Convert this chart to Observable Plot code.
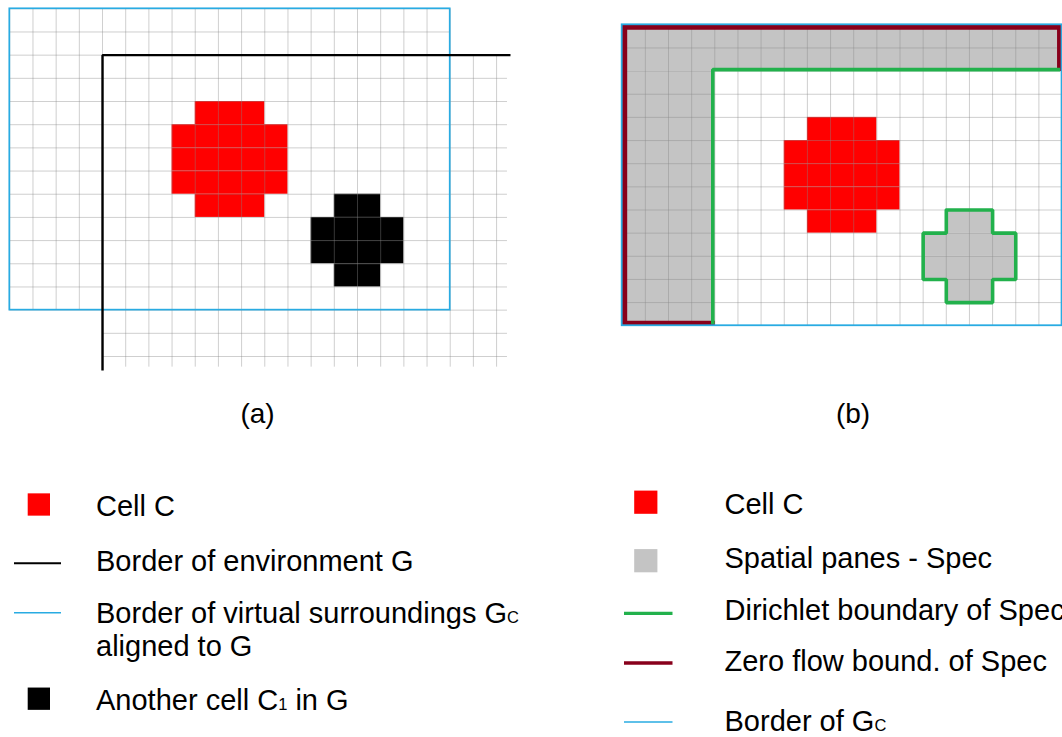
<!DOCTYPE html>
<html>
<head>
<meta charset="utf-8">
<script src="https://cdn.jsdelivr.net/npm/d3@7"></script>
<script src="https://cdn.jsdelivr.net/npm/@observablehq/plot@0.6"></script>
<style>
  html, body { margin: 0; padding: 0; background: #fff; }
  #root { position: relative; width: 1062px; height: 737px; overflow: hidden; background: #fff; }
  #panelA, #panelB, #overlay { position: absolute; top: 0; }
  #panelA { left: 0; }
  #panelB { left: 600px; }
  #overlay { left: 0; pointer-events: none; }
  svg { display: block; }
</style>
</head>
<body>
<div id="root">
  <div id="panelA"></div>
  <div id="panelB"></div>
  <div id="overlay"></div>
</div>
<script>
// ---------------- DATA (cell units) ----------------
const gridCols = 19;                 // virtual surroundings Gc : columns
const gridRows = 13;                 // virtual surroundings Gc : rows
const envStart = [4, 2];             // corner of environment G inside Gc (col, row)
const gridAEnd = [21.47, 15.46];     // visible extent of G's grid in panel (a)
const borderGEnd = [21.6, 15.6];     // extent of drawn border of G in panel (a)

// Cell C : row, first column, column after last
const cellC = [
  { row: 4, from: 8, to: 11 },
  { row: 5, from: 7, to: 12 },
  { row: 6, from: 7, to: 12 },
  { row: 7, from: 7, to: 12 },
  { row: 8, from: 8, to: 11 }
];
// Cell C1 (another cell in G)
const cellC1 = [
  { row: 8, from: 14, to: 16 },
  { row: 9, from: 13, to: 17 },
  { row: 10, from: 13, to: 17 },
  { row: 11, from: 14, to: 16 }
];
// outline of C1 (Dirichlet boundary in panel b)
const cellC1Outline = [
  [14, 8], [16, 8], [16, 9], [17, 9], [17, 11], [16, 11], [16, 12],
  [14, 12], [14, 11], [13, 11], [13, 9], [14, 9], [14, 8]
];

// legend texts ("_X" = subscript X, "\n" = new line)
const captions = ["(a)", "(b)"];
const legendALabels = ["Cell C", "Border of environment G", "Border of virtual surroundings G_C\naligned to G", "Another cell C_1 in G"];
const legendAKinds  = ["square", "line", "line", "square"];
const legendBLabels = ["Cell C", "Spatial panes - Spec", "Dirichlet boundary of Spec", "Zero flow bound. of Spec", "Border of G_C"];
const legendBKinds  = ["square", "square", "line", "line", "line"];

// ---------------- STYLES ----------------
const RED = "#ff0000", BLACK = "#000000", BLUE = "#29abe2", GREEN = "#22b14c", DARKRED = "#88001b", GRAY = "#c4c4c4";
const GRIDSTROKE = "#888888", GRIDOPACITY = 0.4;
const FONT = "'Liberation Sans', Arial, Helvetica, sans-serif";
const legendAColors = [RED, BLACK, BLUE, BLACK];
const legendAWidths = [0, 2, 1.5, 0];
const legendBColors = [RED, GRAY, GREEN, DARKRED, BLUE];
const legendBWidths = [0, 0, 3.3, 3.3, 1.5];

// ---------------- PANEL (a) ----------------
const vLinesA = d3.range(0, Math.floor(gridAEnd[0]) + 1).map(k => ({
  x: k,
  y1: k > gridCols ? envStart[1] : 0,
  y2: k < envStart[0] ? gridRows : gridAEnd[1]
}));
const hLinesA = d3.range(0, Math.floor(gridAEnd[1]) + 1).map(j => ({
  y: j,
  x1: j > gridRows ? envStart[0] : 0,
  x2: j < envStart[1] ? gridCols : gridAEnd[0]
}));
const gcFrame = [{ x1: 0, x2: gridCols, y1: 0, y2: gridRows }];
const borderG = [[envStart[0], borderGEnd[1]], [envStart[0], envStart[1]], [borderGEnd[0], envStart[1]]];

const plotA = Plot.plot({
  width: 520, height: 382,
  marginLeft: 9.3, marginRight: 520 - 9.3 - 22 * 23.18,
  marginTop: 8.3, marginBottom: 382 - 8.3 - 16 * 23.18,
  x: { domain: [0, 22], axis: null },
  y: { domain: [0, 16], reverse: true, axis: null },
  marks: [
    Plot.rect(cellC, { x1: "from", x2: "to", y1: "row", y2: d => d.row + 1, fill: RED }),
    Plot.rect(cellC1, { x1: "from", x2: "to", y1: "row", y2: d => d.row + 1, fill: BLACK }),
    Plot.ruleX(vLinesA, { x: "x", y1: "y1", y2: "y2", stroke: GRIDSTROKE, strokeOpacity: GRIDOPACITY, strokeWidth: 1 }),
    Plot.ruleY(hLinesA, { y: "y", x1: "x1", x2: "x2", stroke: GRIDSTROKE, strokeOpacity: GRIDOPACITY, strokeWidth: 1 }),
    Plot.rect(gcFrame, { x1: "x1", x2: "x2", y1: "y1", y2: "y2", fill: "none", stroke: BLUE, strokeWidth: 1.7 }),
    Plot.line(borderG, { x: d => d[0], y: d => d[1], stroke: BLACK, strokeWidth: 2.4, strokeLinecap: "butt", strokeLinejoin: "miter" })
  ]
});
document.getElementById("panelA").appendChild(plotA);

// ---------------- PANEL (b) ----------------
const vLinesB = d3.range(1, gridCols).map(k => ({ x: k, y1: 0, y2: gridRows }));
const hLinesB = d3.range(1, gridRows).map(j => ({ y: j, x1: 0, x2: gridCols }));
const specPanes = [
  { x1: 0, x2: gridCols, y1: 0, y2: envStart[1] },
  { x1: 0, x2: envStart[0], y1: envStart[1], y2: gridRows }
];
const zeroFlow = [[envStart[0], gridRows], [0, gridRows], [0, 0], [gridCols, 0], [gridCols, envStart[1]]];
const dirichlet = [[envStart[0], gridRows], [envStart[0], envStart[1]], [gridCols, envStart[1]]];

const cellB = 23.15;
const plotB = Plot.plot({
  width: 462, height: 340,
  marginLeft: 21.7, marginRight: 462 - 21.7 - gridCols * cellB,
  marginTop: 24.3, marginBottom: 340 - 24.3 - gridRows * cellB,
  x: { domain: [0, gridCols], axis: null },
  y: { domain: [0, gridRows], reverse: true, axis: null },
  marks: [
    Plot.rect(specPanes, { x1: "x1", x2: "x2", y1: "y1", y2: "y2", fill: GRAY }),
    Plot.rect(cellC1, { x1: "from", x2: "to", y1: "row", y2: d => d.row + 1, fill: GRAY }),
    Plot.rect(cellC, { x1: "from", x2: "to", y1: "row", y2: d => d.row + 1, fill: RED }),
    Plot.ruleX(vLinesB, { x: "x", y1: "y1", y2: "y2", stroke: GRIDSTROKE, strokeOpacity: GRIDOPACITY, strokeWidth: 1 }),
    Plot.ruleY(hLinesB, { y: "y", x1: "x1", x2: "x2", stroke: GRIDSTROKE, strokeOpacity: GRIDOPACITY, strokeWidth: 1 }),
    Plot.line(zeroFlow, { x: d => d[0], y: d => d[1], stroke: DARKRED, strokeWidth: 10, clip: true, strokeLinecap: "butt", strokeLinejoin: "miter" }),
    Plot.line(dirichlet, { x: d => d[0], y: d => d[1], stroke: GREEN, strokeWidth: 3.6, dx: -2, dy: -1.5, clip: true, strokeLinecap: "butt", strokeLinejoin: "miter" }),
    Plot.line(cellC1Outline, { x: d => d[0], y: d => d[1], stroke: GREEN, strokeWidth: 3.6, strokeLinejoin: "miter" }),
    Plot.rect(gcFrame, { x1: "x1", x2: "x2", y1: "y1", y2: "y2", fill: "none", stroke: BLUE, strokeWidth: 1.8 })
  ]
});
document.getElementById("panelB").appendChild(plotB);

// ---------------- CAPTIONS & LEGENDS ----------------
const layout = {
  fontSize: 29, subSize: 16.5, captionSize: 28,
  captionX: [257.5, 853], captionBaseline: 423.4,
  A: { textX: 96, baselines: [515.5, 570.5, 623, 710], lineGap: 32.5,
       swatchY: [504.5, 563.3, 612.7, 698.7], sqX: 27.7, sqSize: 22.3, lineX1: 14, lineX2: 61 },
  B: { textX: 724.5, baselines: [514.3, 568.3, 620, 671, 730.5], lineGap: 32.5,
       swatchY: [502.2, 560.7, 613.3, 663, 722], sqX: 634.2, sqSize: 23.2, lineX1: 624, lineX2: 672.5 }
};

const svg = d3.select("#overlay").append("svg")
  .attr("width", 1062).attr("height", 737)
  .attr("font-family", FONT).attr("font-size", layout.fontSize).attr("fill", "#000");

captions.forEach((c, i) => {
  svg.append("text").attr("x", layout.captionX[i]).attr("y", layout.captionBaseline)
    .attr("font-size", layout.captionSize)
    .attr("text-anchor", "middle").text(c);
});

function writeLine(textSel, str) {
  const parts = str.split(/(_.)/).filter(s => s.length);
  parts.forEach(p => {
    if (p[0] === "_") textSel.append("tspan").attr("font-size", layout.subSize).text(p.slice(1));
    else textSel.append("tspan").text(p);
  });
}

function drawLegend(L, labels, kinds, colors, widths) {
  labels.forEach((lab, i) => {
    const cy = L.swatchY[i];
    if (kinds[i] === "square") {
      svg.append("rect").attr("x", L.sqX).attr("y", cy - L.sqSize / 2)
        .attr("width", L.sqSize).attr("height", L.sqSize).attr("fill", colors[i]);
    } else {
      svg.append("line").attr("x1", L.lineX1).attr("x2", L.lineX2).attr("y1", cy).attr("y2", cy)
        .attr("stroke", colors[i]).attr("stroke-width", widths[i]);
    }
    lab.split("\n").forEach((ln, k) => {
      const t = svg.append("text").attr("x", L.textX).attr("y", L.baselines[i] + k * L.lineGap);
      writeLine(t, ln);
    });
  });
}
drawLegend(layout.A, legendALabels, legendAKinds, legendAColors, legendAWidths);
drawLegend(layout.B, legendBLabels, legendBKinds, legendBColors, legendBWidths);
</script>
</body>
</html>
